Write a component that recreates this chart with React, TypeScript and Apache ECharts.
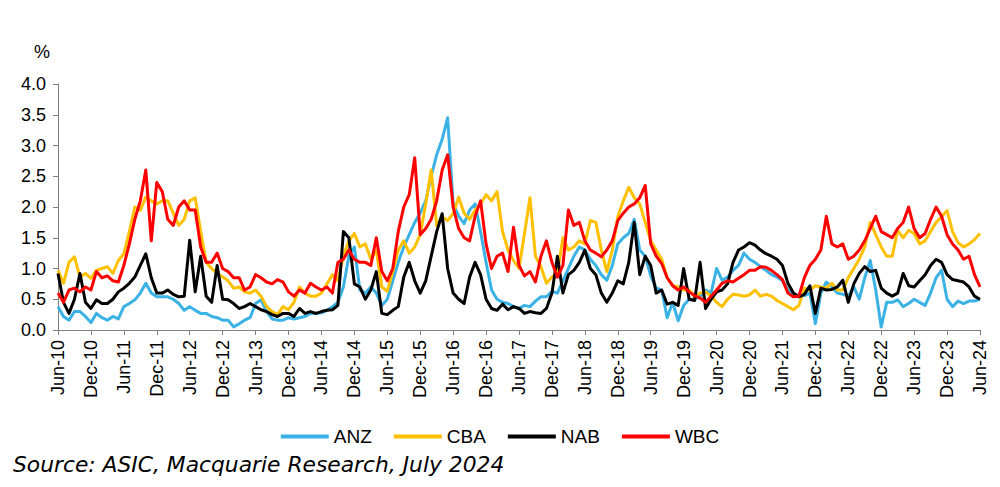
import React, { useEffect, useRef } from "react";
import * as echarts from "echarts";

// Tick labels every 6 months, Jun-10 .. Jun-24 (x value = months since Jun-10)
const xTickLabels = [
  "Jun-10", "Dec-10", "Jun-11", "Dec-11", "Jun-12", "Dec-12", "Jun-13", "Dec-13",
  "Jun-14", "Dec-14", "Jun-15", "Dec-15", "Jun-16", "Dec-16", "Jun-17", "Dec-17",
  "Jun-18", "Dec-18", "Jun-19", "Dec-19", "Jun-20", "Dec-20", "Jun-21", "Dec-21",
  "Jun-22", "Dec-22", "Jun-23", "Dec-23", "Jun-24",
];
const yTicks = [0, 0.5, 1, 1.5, 2, 2.5, 3, 3.5, 4];
const seriesNames = ["ANZ", "CBA", "NAB", "WBC"];

// Monthly readings (%), Jun-10 .. Jun-24
const anz = [
  0.38, 0.22, 0.16, 0.3, 0.3, 0.22, 0.12, 0.27, 0.2, 0.16,
  0.22, 0.18, 0.38, 0.43, 0.49, 0.6, 0.76, 0.6, 0.54, 0.54,
  0.54, 0.5, 0.43, 0.32, 0.38, 0.32, 0.27, 0.27, 0.22, 0.2,
  0.16, 0.16, 0.05, 0.1, 0.16, 0.2, 0.43, 0.49, 0.3, 0.18,
  0.16, 0.16, 0.2, 0.18, 0.2, 0.22, 0.27, 0.27, 0.28, 0.32,
  0.38, 0.45, 0.7, 1.2, 1.35, 0.65, 0.6, 0.7, 0.6, 0.4,
  0.5, 0.8, 1.1, 1.35, 1.55, 1.75, 1.9, 2.1, 2.5, 2.85,
  3.1, 3.45, 2.05, 1.85, 1.73, 1.95, 2.05, 1.6, 1.1, 0.65,
  0.5, 0.45, 0.43, 0.38, 0.35, 0.4, 0.38, 0.47, 0.54, 0.54,
  0.63, 0.6, 0.8, 1.0, 1.2, 1.35, 1.3, 1.15, 1.05, 0.9,
  0.81, 1.05, 1.4, 1.5, 1.57, 1.8, 1.3, 1.2, 0.88, 0.68,
  0.65, 0.2, 0.45, 0.15, 0.4, 0.5, 0.5, 0.55, 0.65, 0.6,
  1.0, 0.81, 0.86, 0.97, 1.05, 1.25, 1.15, 1.1, 1.03, 0.97,
  0.9, 0.86, 0.8, 0.65, 0.55, 0.54, 0.56, 0.6, 0.1, 0.6,
  0.78, 0.7, 0.6, 0.58, 0.55, 0.7, 0.5, 0.85, 1.13, 0.65,
  0.05, 0.45, 0.45, 0.49, 0.38, 0.43, 0.5, 0.45, 0.4, 0.6,
  0.85, 0.97, 0.5, 0.38, 0.47, 0.43, 0.47, 0.47, 0.5,
];
const cba = [
  0.97, 0.76, 1.1, 1.19, 0.86, 0.92, 0.84, 0.97, 1.0, 1.03,
  0.92, 1.13, 1.24, 1.6, 2.0, 1.95, 2.16, 2.1, 2.05, 2.1,
  2.1, 1.9, 1.7, 1.8, 2.1, 2.15, 1.6, 1.1, 1.0, 0.92,
  0.86, 0.8, 0.68, 0.7, 0.62, 0.6, 0.65, 0.55, 0.38, 0.3,
  0.25, 0.38, 0.33, 0.45, 0.7, 0.6, 0.55, 0.55, 0.6, 0.75,
  0.9, 0.8, 1.2, 1.45, 1.57, 1.35, 1.4, 1.15, 1.3, 0.7,
  0.63, 0.95, 1.3, 1.45, 1.25, 1.35, 1.55, 2.05, 2.6, 1.7,
  1.84, 1.78, 1.89, 2.16, 1.9, 1.8, 1.95, 2.05, 2.2, 2.1,
  2.25, 1.6, 1.3, 1.13, 1.0, 1.57, 2.15, 1.2, 1.03, 0.76,
  0.86, 0.92, 1.5, 1.3, 1.35, 1.45, 1.4, 1.78, 1.75, 1.3,
  0.95, 1.3, 1.84, 2.1, 2.32, 2.15, 2.05, 1.75, 1.45, 1.3,
  1.15, 0.85, 0.72, 0.7, 0.65, 0.65, 0.54, 0.6, 0.62, 0.55,
  0.45, 0.38, 0.5, 0.58, 0.57, 0.55, 0.57, 0.65, 0.55, 0.58,
  0.55, 0.48, 0.43, 0.38, 0.33, 0.4, 0.68, 0.65, 0.72, 0.7,
  0.68, 0.76, 0.65, 0.65, 0.85, 1.0, 1.15, 1.35, 1.75, 1.55,
  1.35, 1.2, 1.2, 1.62, 1.5, 1.62, 1.57, 1.4, 1.45, 1.6,
  1.75, 1.84, 1.94, 1.6, 1.42, 1.35, 1.4, 1.47, 1.57,
];
const nab = [
  0.92, 0.45, 0.27, 0.5, 0.92, 0.45, 0.35, 0.49, 0.43, 0.43,
  0.5, 0.62, 0.68, 0.76, 0.86, 1.05, 1.24, 0.85, 0.6, 0.6,
  0.65, 0.58, 0.54, 0.55, 1.46, 0.62, 1.2, 0.55, 0.45, 1.05,
  0.5, 0.49, 0.43, 0.35, 0.38, 0.43, 0.38, 0.33, 0.3, 0.25,
  0.22, 0.27, 0.27, 0.22, 0.35, 0.27, 0.3, 0.27, 0.3, 0.32,
  0.33, 0.4, 1.6, 1.5, 0.75, 0.7, 0.5, 0.65, 0.95, 0.27,
  0.25, 0.32, 0.38, 0.86, 1.1, 0.8, 0.6, 0.8, 1.2, 1.6,
  1.89, 1.0, 0.6, 0.5, 0.43, 0.86, 1.1, 0.9, 0.5, 0.35,
  0.32, 0.42, 0.33, 0.38, 0.35, 0.27, 0.3, 0.28, 0.27, 0.35,
  0.6, 1.2, 0.6, 0.9, 0.97, 1.1, 1.3, 1.0, 0.9, 0.6,
  0.45, 0.6, 0.8, 0.75, 1.1, 1.75, 0.9, 1.2, 1.05, 0.6,
  0.65, 0.42, 0.45, 0.4, 1.0, 0.5, 0.48, 1.1, 0.35, 0.5,
  0.62, 0.65, 0.75, 1.1, 1.3, 1.35, 1.42, 1.38, 1.3, 1.24,
  1.2, 1.15, 1.05, 0.76, 0.6, 0.54, 0.58, 0.72, 0.27, 0.68,
  0.65, 0.66, 0.7, 0.81, 0.45, 0.75, 0.92, 1.03, 0.95, 0.97,
  0.68, 0.6, 0.55, 0.6, 0.92, 0.72, 0.7, 0.8, 0.9, 1.05,
  1.15, 1.1, 0.9, 0.82, 0.8, 0.78, 0.7, 0.55, 0.5,
];
const wbc = [
  0.6, 0.45, 0.65, 0.68, 0.62, 0.7, 0.65, 0.95, 0.85, 0.88,
  0.8, 0.78, 1.05, 1.4, 1.8, 2.1, 2.6, 1.45, 2.4, 2.25,
  1.8, 1.7, 2.0, 2.1, 1.95, 1.95, 1.35, 1.1, 1.1, 1.25,
  1.0, 0.95, 0.85, 0.85, 0.65, 0.7, 0.9, 0.85, 0.78, 0.75,
  0.82, 0.78, 0.62, 0.55, 0.65, 0.6, 0.76, 0.7, 0.65, 0.7,
  0.6, 1.1, 1.15, 1.3, 1.15, 1.1, 1.1, 1.05, 1.5, 0.95,
  0.8, 1.0, 1.6, 2.0, 2.2, 2.8, 1.55, 1.65, 1.8, 2.1,
  2.6, 2.85, 2.0, 1.65, 1.5, 1.45, 1.85, 2.1, 1.4, 1.0,
  1.2, 1.25, 0.95, 1.67, 1.05, 0.88, 0.95, 0.78, 1.2, 1.45,
  1.1, 0.86, 1.05, 1.95, 1.7, 1.75, 1.45, 1.3, 1.25, 1.19,
  1.3, 1.45, 1.78, 1.9, 2.0, 2.05, 2.15, 2.35, 1.4, 1.2,
  1.08, 0.85, 0.72, 0.65, 0.7, 0.62, 0.56, 0.52, 0.45, 0.55,
  0.65, 0.76, 0.8, 0.78, 0.84, 0.9, 0.97, 0.97, 1.03, 1.02,
  0.97, 0.9, 0.82, 0.6, 0.54, 0.55, 0.85, 1.05, 1.15, 1.3,
  1.85, 1.4, 1.35, 1.4, 1.15, 1.2, 1.3, 1.45, 1.65, 1.85,
  1.6, 1.55, 1.5, 1.65, 1.75, 2.0, 1.65, 1.5, 1.57, 1.8,
  2.0, 1.85, 1.55, 1.4, 1.3, 1.15, 1.2, 0.9, 0.7,
];

const colors = ["#3AB2E6", "#FFC000", "#000000", "#FF0000"];
const FONT = "'Liberation Sans', Arial, sans-serif";

export default function App() {
  const ref = useRef<HTMLDivElement>(null);
  useEffect(() => {
    const chart = echarts.init(ref.current!, null, { renderer: "svg" });
    const pts = (arr: number[]) => arr.map((v, i) => [i, v]);
    const all = [anz, cba, nab, wbc];
    chart.setOption({
      animation: false,
      backgroundColor: "#ffffff",
      grid: { left: 58, right: 20, top: 84, bottom: 157, containLabel: false },
      legend: {
        data: seriesNames,
        top: 422,
        left: "center",
        icon: "rect",
        itemWidth: 48,
        itemHeight: 4,
        itemGap: 22,
        textStyle: { fontFamily: FONT, fontSize: 19, color: "#000" },
      },
      xAxis: {
        type: "value",
        min: 0,
        max: (xTickLabels.length - 1) * 6,
        interval: 6,
        axisLine: { show: true, lineStyle: { color: "#808080", width: 1 } },
        axisTick: { show: true, length: 5, lineStyle: { color: "#808080" } },
        splitLine: { show: false },
        axisLabel: {
          rotate: 90,
          margin: 10,
          fontFamily: FONT,
          fontSize: 18,
          color: "#000",
          formatter: (v: number) => xTickLabels[Math.round(v / 6)] ?? "",
        },
      },
      yAxis: {
        type: "value",
        min: yTicks[0],
        max: yTicks[yTicks.length - 1],
        interval: 0.5,
        axisLine: { show: true, lineStyle: { color: "#808080", width: 1 } },
        axisTick: { show: true, length: 5, lineStyle: { color: "#808080" } },
        splitLine: { show: false },
        axisLabel: {
          margin: 12,
          fontFamily: FONT,
          fontSize: 18,
          color: "#000",
          formatter: (v: number) => v.toFixed(1),
        },
      },
      graphic: [
        {
          type: "text",
          left: 34,
          top: 43,
          style: { text: "%", fontFamily: FONT, fontSize: 18, fill: "#000" },
        },
        {
          type: "text",
          left: 13,
          top: 453,
          style: {
            text: "Source: ASIC, Macquarie Research, July 2024",
            fontFamily: "'DejaVu Sans', sans-serif",
            fontStyle: "italic",
            fontSize: 21.8,
            fill: "#000",
          },
        },
      ],
      series: seriesNames.map((name, k) => ({
        name,
        type: "line",
        data: pts(all[k]),
        showSymbol: false,
        symbol: "none",
        color: colors[k],
        lineStyle: { width: 3, color: colors[k], join: "round" },
        z: 2 + k,
      })),
    });
    return () => chart.dispose();
  }, []);
  return (
    <div
      ref={ref}
      style={{ position: "fixed", left: 0, top: 0, width: 1000, height: 487, background: "#fff" }}
    />
  );
}
